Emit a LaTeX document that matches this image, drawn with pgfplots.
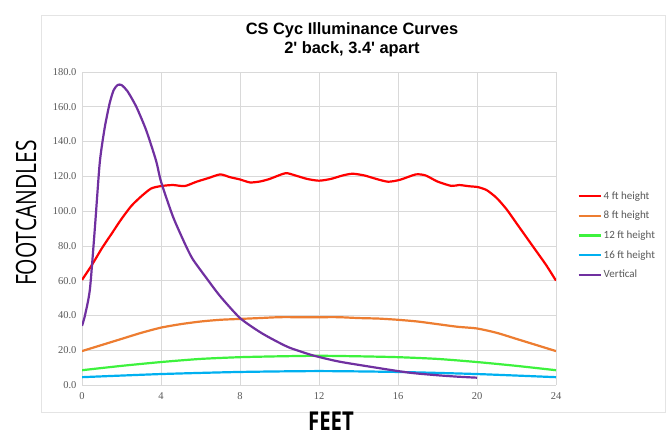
\documentclass[border=0pt]{standalone}
\usepackage{pgfplots}
\pgfplotsset{compat=1.18}
\usepackage{fontspec}
\setmainfont{Liberation Sans}
\newfontfamily\titlefont{Liberation Sans}
\newfontfamily\tickfont{Liberation Serif}
\newfontfamily\legfont{Carlito}
\newfontfamily\labfont{Open Sans}
\definecolor{c4}{HTML}{FF0000}
\definecolor{c8}{HTML}{ED7D31}
\definecolor{c12}{HTML}{3DF23D}
\definecolor{c16}{HTML}{00B0F0}
\definecolor{cv}{HTML}{7030A0}
\definecolor{txtgray}{HTML}{595959}
\definecolor{gridgray}{HTML}{D9D9D9}
\begin{document}
\begin{tikzpicture}[x=1pt,y=1pt]
\path[use as bounding box, fill=white] (0,0) rectangle (671,436);
\draw[gridgray!70, line width=0.8pt] (41,{436-15}) rectangle (665,{436-412});
\node[font=\titlefont\bfseries\fontsize{16.4}{19}\selectfont, align=center] at (352,{436-40}) {CS Cyc Illuminance Curves\\2' back, 3.4' apart};
\node[rotate=90, font=\labfont\fontsize{28}{30}\selectfont, inner sep=0pt] at (26,{436-213}) {\scalebox{0.75}[1]{FOOTCANDLES}};
\node[font=\labfont\bfseries\fontsize{26}{28}\selectfont, inner sep=0pt] at (331,{436-421}) {\scalebox{0.78}[1]{FEET}};
\begin{axis}[
  at={(82pt,51pt)}, anchor=south west,
  width=474pt, height=313pt, scale only axis,
  xmin=0, xmax=24, ymin=0, ymax=180,
  xtick={0,4,...,24}, ytick={0,20,...,180},
  grid=major, major grid style={gridgray, line width=0.6pt},
  axis line style={gridgray, line width=0.8pt},
  axis x line*=bottom, axis y line*=left,
  separate axis lines,
  tick style={draw=none},
  ticklabel style={font=\tickfont\fontsize{10.5}{12}\selectfont, text=txtgray},
  /pgf/number format/assume math mode=true,
  yticklabel style={/pgf/number format/fixed, /pgf/number format/fixed zerofill, /pgf/number format/precision=1, xshift=-2pt},
  xticklabel style={yshift=-4pt},
  legend cell align=left,
  legend style={at={(1.045,0.625)}, anchor=north west, draw=none, fill=none,
    font=\legfont\fontsize{11}{13}\selectfont, text=txtgray, row sep=6.5pt,
    inner sep=0pt},
  legend image code/.code={\draw[#1, line width=2.2pt] (0pt,0pt) -- (22pt,0pt);},
  every axis plot/.append style={line width=2.2pt, smooth, tension=0.4},
]
\addplot[c4] coordinates {
(0,60.4) (0.5,69) (1,78.5) (1.5,87) (2,95.5) (2.5,103) (3,108.5) (3.5,113) (4,114.4) (4.6,115) (5.2,114.4) (5.8,116.9) (6.4,119) (7.0,121.1) (7.5,119.5) (8,118.2) (8.5,116.5) (9,117) (9.5,118.5) (10.3,121.8) (10.8,120.5) (11.4,118.5) (12,117.5) (12.6,118.5) (13.2,120.5) (13.7,121.5) (14.3,120.5) (14.9,118.5) (15.5,116.9) (16.1,118) (16.9,121.1) (17.4,120.5) (18,117) (18.7,114.5) (19.1,115) (19.6,114.3) (20.05,113.8) (20.5,112) (21.0,107.5) (21.5,101) (22,93) (22.5,85) (23,77) (23.5,69) (24,60)
};
\addlegendentry{4 ft height}
\addplot[c8] coordinates {
(0,19.5) (1,23) (2,26.5) (3,30) (4,33) (5,35) (6,36.5) (7,37.5) (8,38) (9,38.5) (10,39) (11,39) (12,39) (13,39) (14,38.5) (15,38.2) (16,37.5) (17,36.5) (18,35) (19,33.5) (20,32.5) (21,30) (22,26.5) (23,23) (24,19.5)
};
\addlegendentry{8 ft height}
\addplot[c12] coordinates {
(0,8.5) (2,11) (4,13.2) (6,15) (8,16) (10,16.5) (12,16.8) (14,16.5) (16,16) (18,15) (20,13.2) (22,11) (24,8.5)
};
\addlegendentry{12 ft height}
\addplot[c16] coordinates {
(0,4.5) (4,6.3) (8,7.5) (12,8) (16,7.5) (20,6.3) (24,4.5)
};
\addlegendentry{16 ft height}
\addplot[cv] coordinates {
(0,34) (0.15,40) (0.4,55) (0.65,90) (0.9,128) (1.15,148) (1.4,162) (1.6,169.5) (1.8,172.5) (2.0,172.5) (2.3,169) (2.75,160) (3.25,146.5) (3.75,129) (4.0,117) (4.6,97) (5.2,81.5) (5.6,72.5) (6.3,61.5) (7.0,51) (8.0,38.5) (9.0,30.5) (9.7,26) (10.5,21.5) (11.7,17) (13,13.5) (14.6,10.5) (16,8) (16.8,6.8) (18,5.6) (19,4.8) (20,4.2)
};
\addlegendentry{Vertical}
\end{axis}
\end{tikzpicture}
\end{document}
